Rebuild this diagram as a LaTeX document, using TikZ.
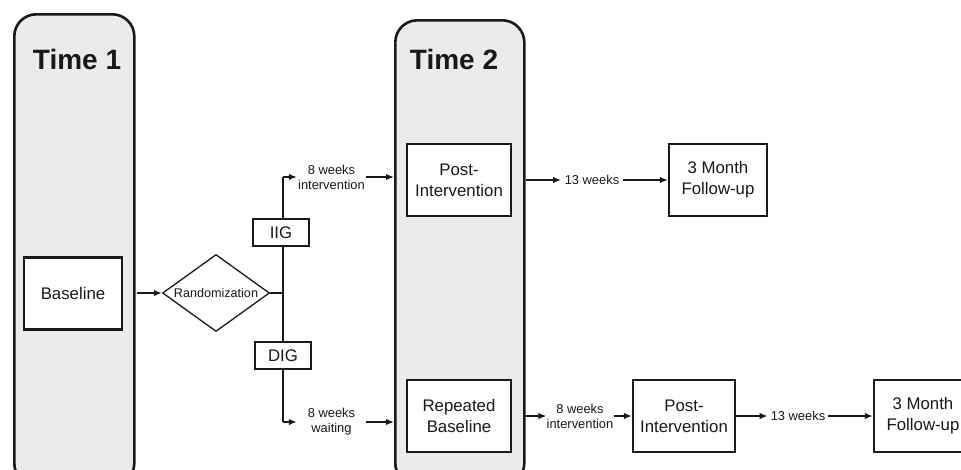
\documentclass[tikz,border=0pt]{standalone}
\usepackage{fontspec}
\setmainfont{Liberation Sans}
\usetikzlibrary{shapes.geometric,arrows.meta}
\definecolor{panelgray}{RGB}{235,235,235}
\definecolor{ink}{RGB}{25,25,25}
\begin{document}
\begin{tikzpicture}[x=1pt,y=-1pt,
  panel/.style={draw=ink, line width=2.6pt, fill=panelgray, rounded corners=22pt, anchor=north west, inner sep=0pt},
  box/.style={draw=ink, line width=2.3pt, fill=white, align=center, text=ink,
    font=\fontsize{16.8}{21}\selectfont, inner sep=0pt, minimum height=72pt},
  tagbox/.style={draw=ink, line width=2.3pt, fill=white, text=ink,
    font=\fontsize{16.8}{21}\selectfont, inner sep=0pt, minimum width=56pt, minimum height=27pt},
  lbl/.style={align=center, text=ink, font=\fontsize{12.9}{15}\selectfont, inner sep=0pt},
  title/.style={text=ink, font=\fontsize{28}{32}\selectfont\bfseries, inner sep=0pt},
  arr/.style={draw=ink, line width=1.5pt, -{Latex[length=8pt,width=6.5pt]}},
  ln/.style={draw=ink, line width=1.5pt}
]
\useasboundingbox (0,0) rectangle (961,469);
\clip (0,0) rectangle (961,469);
\fill[white] (0,0) rectangle (961,469);

% panels
\node[panel, minimum width=120pt, minimum height=471pt] (t1) at (13,13) {};
\node[panel, minimum width=129pt, minimum height=465pt] (t2) at (394,19) {};
\node[title] (t1title) at (77,59) {Time 1};
\node[title] (t2title) at (454,59) {Time 2};

% nodes
\node[box, minimum width=98pt] (base) at (73,293.5) {Baseline};
\node[diamond, draw=ink, line width=1.3pt, fill=white, aspect=1.39, minimum width=107pt, minimum height=77pt, inner sep=0pt, text=ink, font=\fontsize{12.6}{15}\selectfont] (rand) at (216,293) {Randomization};

\coordinate (jn) at (283,293);
\coordinate (tb) at (283,177);
\coordinate (bb) at (283,422);
\draw[ln] (rand.east) -- (jn);
\draw[ln] (tb) -- (bb);

\node[tagbox] (iig) at (281,232.5) {IIG};
\node[tagbox] (dig) at (283,355.5) {DIG};

\node[lbl, minimum width=69pt] (lab1) at (331.5,177) {8 weeks\\intervention};
\node[lbl, minimum width=69pt] (lab2) at (331.5,422) {8 weeks\\waiting};

\node[box, minimum width=104pt] (ppost1) at (459,180) {Post-\\Intervention};
\node[box, minimum width=104pt] (rbase) at (459,416) {Repeated\\Baseline};

\node[lbl, inner xsep=3.5pt] (w13a) at (592,180) {13 weeks};
\node[box, minimum width=98pt] (fu1) at (718,180) {3 Month\\Follow-up};

\node[lbl, minimum width=66pt] (w8b) at (580,416) {8 weeks\\intervention};
\node[box, minimum width=102pt] (ppost2) at (684,416) {Post-\\Intervention};
\node[lbl, inner xsep=3pt] (w13b) at (798,416) {13 weeks};
\node[box, minimum width=98pt] (fu2) at (923,416) {3 Month\\Follow-up};

% connectors
\draw[arr] ([xshift=1.5pt]t1.east |- rand.west) -- (rand.west);
\draw[arr] (tb) -- (lab1.west);
\draw[arr] (bb) -- (lab2.west);
\draw[arr] (lab1.east) -- (lab1.east -| t2.west);
\draw[arr] (lab2.east) -- (lab2.east -| t2.west);
\draw[arr] (t2.east |- ppost1.east) -- (w13a.west);
\draw[arr] (w13a.east) -- (fu1.west);
\draw[arr] (t2.east |- rbase.east) -- (w8b.west);
\draw[arr] (w8b.east) -- (ppost2.west);
\draw[arr] (ppost2.east) -- (w13b.west);
\draw[arr] (w13b.east) -- (fu2.west);
\end{tikzpicture}
\end{document}
